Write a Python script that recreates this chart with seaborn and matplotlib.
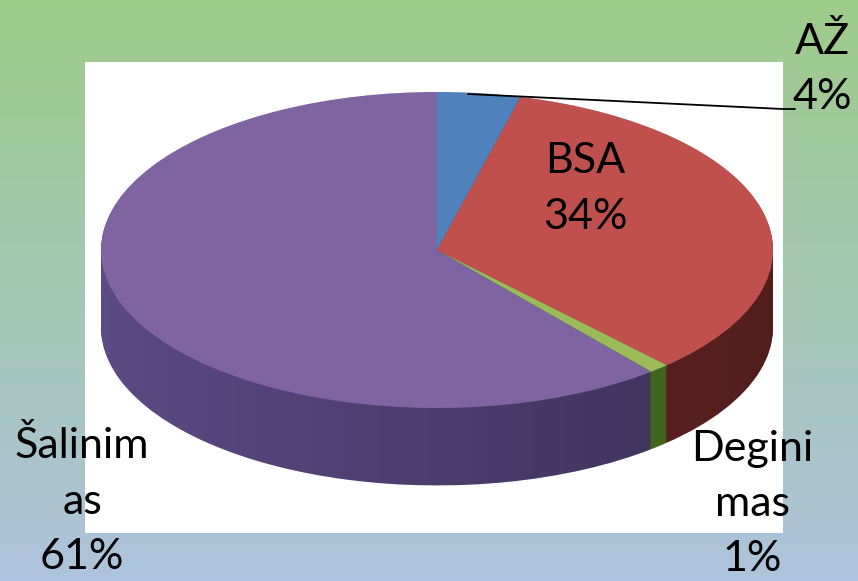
import numpy as np
import matplotlib
matplotlib.use("Agg")
import matplotlib.pyplot as plt
import seaborn as sns
from matplotlib.patches import Rectangle, PathPatch
from matplotlib.path import Path
from matplotlib.colors import to_rgb

# ---- data ----
categories = ["AŽ", "BSA", "Degini\nmas", "Šalinim\nas"]
values = [4, 34, 1, 61]
pct_labels = ["4%", "34%", "1%", "61%"]
top_colors = ["#4f81bd", "#c0504d", "#9bbb59", "#8064a2"]
side_colors = ["#3d6699", "#7e2f2c", "#5f8f2c", "#5c4a84"]

sns.set_theme(style="white")
plt.rcParams["font.family"] = ["Lato", "DejaVu Sans"]

W, H = 858, 581
fig = plt.figure(figsize=(W / 100, H / 100), dpi=100)

# background gradient
bg = fig.add_axes([0, 0, 1, 1])
c_top = np.array(to_rgb("#9ecb8a"))
c_bot = np.array(to_rgb("#adc3dd"))
t = np.linspace(0, 1, 256)[:, None]
grad = (c_top[None, :] * (1 - t) + c_bot[None, :] * t)[:, None, :]
bg.imshow(grad, aspect="auto", extent=[0, 1, 0, 1], origin="upper")
bg.set_xlim(0, 1); bg.set_ylim(0, 1)
bg.axis("off")

# white plot area (pixels 85..783 x, 62..533 y)
px0, px1, py0, py1 = 85, 783, 62, 533
fig.patches.append(Rectangle((px0 / W, 1 - py1 / H), (px1 - px0) / W, (py1 - py0) / H,
                             transform=fig.transFigure, facecolor="white",
                             edgecolor="none", zorder=1))

ax = fig.add_axes([px0 / W, 1 - py1 / H, (px1 - px0) / W, (py1 - py0) / H])
ax.set_zorder(2)
ax.patch.set_alpha(0)

cx, cy = 437, 250      # pie centre in pixels
rx, ry = 336, 158      # pixels per unit
depth = 0.49           # side depth in y units

N = 60
for k in range(N, 0, -1):
    off = -depth * k / N
    ws, _ = ax.pie(values, colors=side_colors, startangle=90, counterclock=False,
                   center=(0, off), wedgeprops=dict(linewidth=0, antialiased=True))
    for w in ws:
        w.set_zorder(1)

# shading gradient across side band (lighter left, darker right)
th = np.linspace(0, np.pi, 200)
upper = np.column_stack([np.cos(th), np.sin(th)])
lower = np.column_stack([np.cos(th + np.pi), np.sin(th + np.pi) - depth])
verts = np.vstack([upper, lower, upper[:1]])
clip = PathPatch(Path(verts, closed=True), transform=ax.transData, facecolor="none", edgecolor="none")
ax.add_patch(clip)
shade = np.zeros((2, 256, 4))
shade[..., 3] = np.linspace(0.0, 0.36, 256)[None, :]
im = ax.imshow(shade, extent=[-1, 1, -1 - depth, 1], aspect="auto", zorder=1.5,
               interpolation="bilinear")
im.set_clip_path(clip)

wedges, _ = ax.pie(values, colors=top_colors, startangle=90, counterclock=False,
                   center=(0, 0), wedgeprops=dict(linewidth=0, antialiased=True))
for w in wedges:
    w.set_zorder(2)

ax.set_aspect("auto")
ax.set_xlim(-(cx - px0) / rx, (px1 - cx) / rx)
ax.set_ylim(-(py1 - cy) / ry, (cy - py0) / ry)
ax.axis("off")

# labels (figure pixel coords)
fs = 31
def ftxt(x, y, s):
    fig.text(x / W, 1 - y / H, s, ha="center", va="center", fontsize=fs,
             color="black", zorder=5, linespacing=1.55)

ftxt(822, 69, categories[0] + "\n" + pct_labels[0])
ftxt(585, 189, categories[1] + "\n" + pct_labels[1])
ftxt(752, 504, categories[2] + "\n" + pct_labels[2])
ftxt(82, 501, categories[3] + "\n" + pct_labels[3])

# leader line for AŽ
fig.add_artist(plt.Line2D([468 / W, 783 / W, 795 / W],
                          [1 - 94 / H, 1 - 109 / H, 1 - 109 / H],
                          color="black", lw=1.3, zorder=4))

fig.savefig("out.png", dpi=100)
